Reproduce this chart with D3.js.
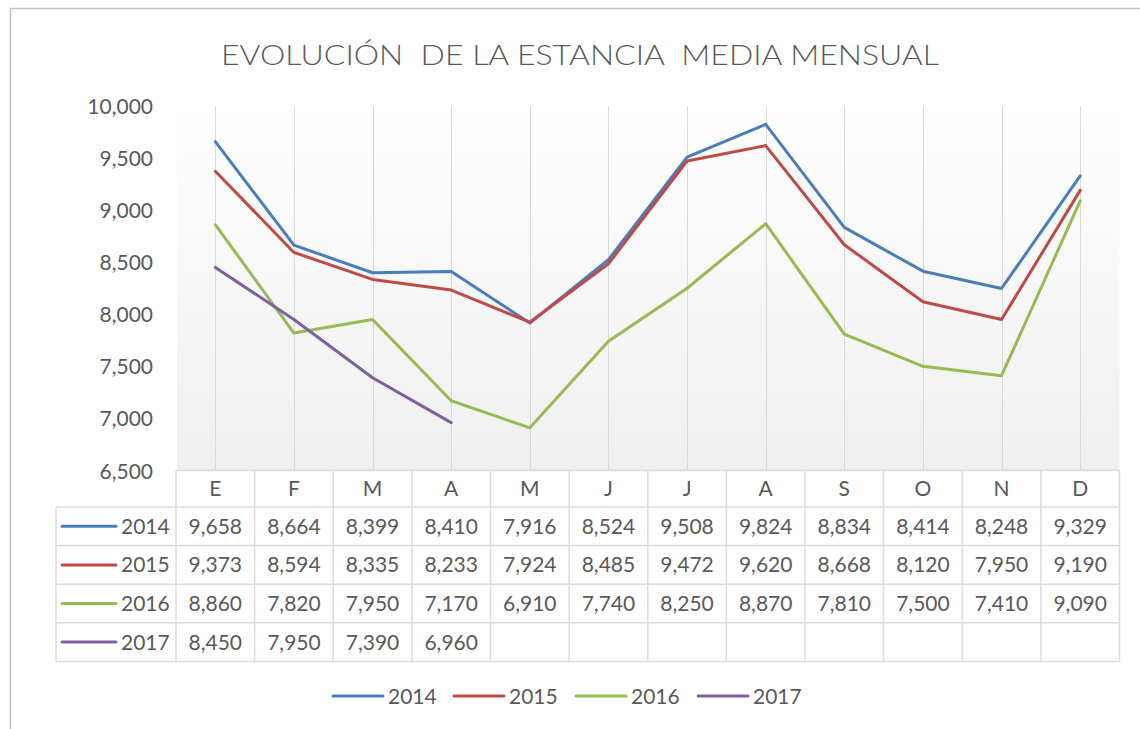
<!DOCTYPE html>
<html><head><meta charset="utf-8">
<script src="https://cdn.jsdelivr.net/npm/d3@7"></script>
<style>body{margin:0;background:#fff}svg{display:block}</style>
</head><body>
<script>
const title = "EVOLUCIÓN  DE LA ESTANCIA  MEDIA MENSUAL";
const months = ["E","F","M","A","M","J","J","A","S","O","N","D"];
const seriesNames = ["2014","2015","2016","2017"];
const colors = ["#4a7ebb","#be4b48","#98b954","#7d60a0"];
const v2014 = [9658,8664,8399,8410,7916,8524,9508,9824,8834,8414,8248,9329];
const v2015 = [9373,8594,8335,8233,7924,8485,9472,9620,8668,8120,7950,9190];
const v2016 = [8860,7820,7950,7170,6910,7740,8250,8870,7810,7500,7410,9090];
const v2017 = [8450,7950,7390,6960];
const yTicks = [6500,7000,7500,8000,8500,9000,9500,10000];

(function(){
const values = [v2014,v2015,v2016,v2017];
const W=1140,H=729;
const svg=d3.select("body").append("svg").attr("width",W).attr("height",H);
const font="Lato, 'Open Sans', sans-serif";
const textCol="#595959", gridCol="#d9d9d9";

// outer border
svg.append("path").attr("d",`M10.5,${H} V8.5 H${W}`).attr("fill","none").attr("stroke","#c4c4c4").attr("stroke-width",1.5);

// title
svg.append("text").attr("x",580).attr("y",65).attr("text-anchor","middle")
  .attr("font-family",font).attr("font-weight",300).attr("font-size",27).attr("fill",textCol)
  .attr("xml:space","preserve").style("white-space","pre")
  .attr("textLength",718).attr("lengthAdjust","spacingAndGlyphs").text(title);

const pL=176,pR=1119.5,pT=106,pB=470.5;
const x=d3.scaleBand().domain(d3.range(months.length)).range([pL,pR]);
const y=d3.scaleLinear().domain([6500,10000]).range([pB,pT]);
const cx=i=>x(i)+x.bandwidth()/2;

// plot background gradient
const defs=svg.append("defs");
const g=defs.append("linearGradient").attr("id","bg").attr("x1",0).attr("y1",0).attr("x2",0).attr("y2",1);
g.append("stop").attr("offset","0%").attr("stop-color","#ffffff");
g.append("stop").attr("offset","12%").attr("stop-color","#fdfdfd");
g.append("stop").attr("offset","100%").attr("stop-color","#efefef");
svg.append("rect").attr("x",pL+1).attr("y",pT).attr("width",pR-pL-1).attr("height",pB-pT).attr("fill","url(#bg)");

// vertical gridlines
svg.append("g").selectAll("line").data(months).join("line")
  .attr("x1",(d,i)=>Math.round(cx(i))+0.5).attr("x2",(d,i)=>Math.round(cx(i))+0.5)
  .attr("y1",pT).attr("y2",pB).attr("stroke",gridCol).attr("stroke-width",1);

// y axis
const yAxis=d3.axisLeft(y).tickValues(yTicks).tickSize(0).tickPadding(0).tickFormat(d3.format(","));
const ya=svg.append("g").attr("transform",`translate(153,0)`).call(yAxis);
ya.select(".domain").remove();
ya.selectAll("text").attr("font-family",font).attr("font-size",21).attr("fill",textCol).attr("dy","0.36em");

// lines
const line=d3.line().x((d,i)=>cx(i)).y(d=>y(d));
values.forEach((vals,k)=>{
  svg.append("path").datum(vals).attr("d",line).attr("fill","none")
    .attr("stroke",colors[k]).attr("stroke-width",3).attr("stroke-linejoin","round").attr("stroke-linecap","round");
});

// data table
const rowH=38.6, headTop=pB, headBot=507;
const tbl=svg.append("g");
const rowY=k=>headBot+k*rowH;
const tableBottom=rowY(seriesNames.length);
const lc="#dcdcdc";
tbl.append("line").attr("x1",pL).attr("x2",pR).attr("y1",headTop).attr("y2",headTop).attr("stroke",lc).attr("stroke-width",1.5);
d3.range(seriesNames.length+1).forEach(k=>{
  tbl.append("line").attr("x1",56).attr("x2",pR).attr("y1",rowY(k)).attr("y2",rowY(k)).attr("stroke",lc).attr("stroke-width",1.5);
});
d3.range(months.length+1).forEach(i=>{
  const xx = i<months.length? x(i): pR;
  tbl.append("line").attr("x1",xx).attr("x2",xx).attr("y1",headTop).attr("y2",tableBottom).attr("stroke",lc).attr("stroke-width",1.5);
});
tbl.append("line").attr("x1",56).attr("x2",56).attr("y1",headBot).attr("y2",tableBottom).attr("stroke",lc).attr("stroke-width",1.5);

tbl.selectAll("text.h").data(months).join("text").attr("class","h")
  .attr("x",(d,i)=>cx(i)).attr("y",(headTop+headBot)/2+7).attr("text-anchor","middle")
  .attr("font-family",font).attr("font-size",21).attr("fill",textCol).text(d=>d);
const fmt=d3.format(",");
values.forEach((vals,k)=>{
  const ym=rowY(k)+rowH/2;
  tbl.append("line").attr("x1",62).attr("x2",116).attr("y1",ym).attr("y2",ym)
    .attr("stroke",colors[k]).attr("stroke-width",3).attr("stroke-linecap","round");
  tbl.append("text").attr("x",121).attr("y",ym+7.5).attr("font-family",font).attr("font-size",21)
    .attr("fill",textCol).text(seriesNames[k]);
  tbl.append("g").selectAll("text").data(vals).join("text")
    .attr("x",(d,i)=>cx(i)).attr("y",ym+7.5).attr("text-anchor","middle")
    .attr("font-family",font).attr("font-size",21).attr("fill",textCol).text(d=>fmt(d));
});

// bottom legend
const legX=[333,454,576,698];
seriesNames.forEach((s,k)=>{
  const lg=svg.append("g");
  lg.append("line").attr("x1",legX[k]).attr("x2",legX[k]+50).attr("y1",696).attr("y2",696)
    .attr("stroke",colors[k]).attr("stroke-width",3).attr("stroke-linecap","round");
  lg.append("text").attr("x",legX[k]+55).attr("y",703.5).attr("font-family",font).attr("font-size",21)
    .attr("fill",textCol).text(s);
});
})();
</script>
</body></html>
